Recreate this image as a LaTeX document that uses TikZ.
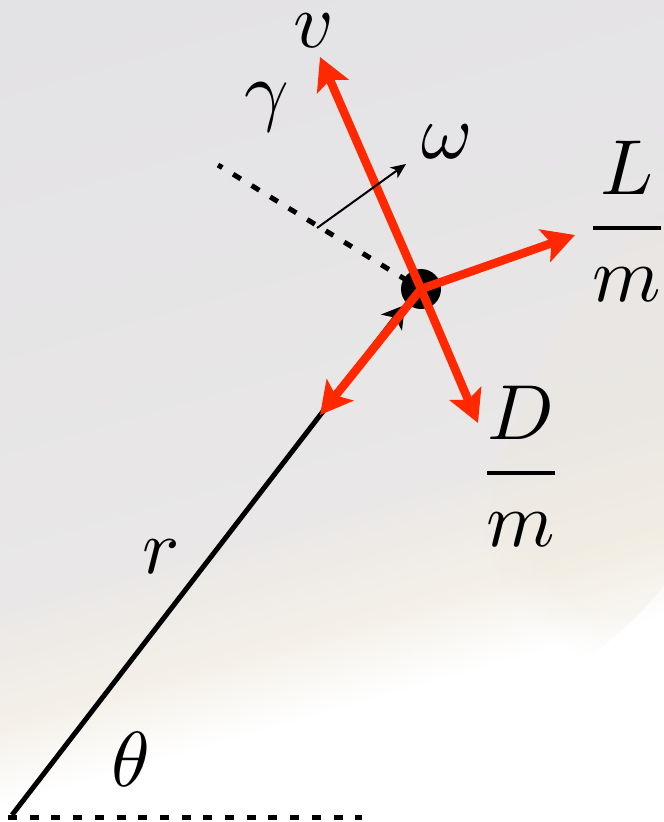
\documentclass[tikz,border=0pt]{standalone}
\usetikzlibrary{arrows.meta,fadings}
\definecolor{redarrow}{RGB}{255,40,0}
\definecolor{bgtop}{RGB}{226,225,229}
\definecolor{bgmid}{RGB}{233,231,231}
\definecolor{bgwarm}{RGB}{244,240,232}
\definecolor{bgcream}{RGB}{238,232,218}
\pgfdeclareverticalshading{bgshade}{1400bp}{color(0bp)=(white); color(560bp)=(white); color(640bp)=(bgwarm); color(760bp)=(bgmid); color(1400bp)=(bgtop)}
\begin{document}
\begin{tikzpicture}[x=1pt,y=-1pt,
  redarr/.style={draw=redarrow, line width=8.5pt, -{Stealth[length=32pt,width=34pt,inset=7pt]}},
  lbl/.style={scale=7.8, inner sep=0pt, anchor=base},
  dashline/.style={line width=5pt, dash pattern=on 9pt off 12.7pt}]
\useasboundingbox (0,0) rectangle (664,822);
% background
\begin{scope}
  \clip (0,0) rectangle (664,822);
  \node[rotate=16, inner sep=0pt] (bg) at (272,584) {\pgfuseshading{bgshade}};
  \fill[bgcream, opacity=0.3, path fading=circle with fuzzy edge 20 percent, rotate around={-25:(630,430)}] (630,430) ellipse [x radius=110pt, y radius=260pt];
\end{scope}
% coordinates
\coordinate (O) at (12,815);
\coordinate (C) at (421,289);
\coordinate (rend) at (405,305);
\coordinate (vtip) at (320,57);
\coordinate (Dtip) at (478,423);
\coordinate (Ltip) at (575,235);
\coordinate (gtip) at (320,415);
\coordinate (hstart) at (8,817);
\coordinate (hend) at (362,817);
\coordinate (dstart) at (218,165);
\coordinate (wstart) at (317,228);
\coordinate (wtip) at (406,164);
% reference lines
\draw[dashline] (hstart) -- (hend);
\draw[line width=5pt, -{Stealth[length=22pt,width=26pt,inset=6pt]}] (O) -- (rend);
\draw[dashline, dash phase=4pt] (dstart) -- (C);
% ball
\node[circle, fill=black, minimum size=40pt, inner sep=0pt] (ball) at (C) {};
% force / velocity arrows
\draw[redarr] (C) -- (vtip);
\draw[redarr] (C) -- (Dtip);
\draw[redarr] (C) -- (Ltip);
\draw[redarr] (C) -- (gtip);
% spin
\draw[line width=2pt, -{Stealth[length=15pt,width=13pt,inset=4pt]}] (wstart) -- (wtip);
% labels
\node[lbl] (v) at (314,47) {$v$};
\node[lbl] (gam) at (267,116) {$\gamma$};
\node[lbl] (om) at (447,158) {$\omega$};
\node[lbl] (Lm) at (627,247.5) {$\displaystyle\frac{L}{m}$};
\node[lbl] (Dm) at (521,492.5) {$\displaystyle\frac{D}{m}$};
\node[lbl] (r) at (161,573) {$r$};
\node[lbl] (th) at (131,786) {$\theta$};
\end{tikzpicture}
\end{document}
